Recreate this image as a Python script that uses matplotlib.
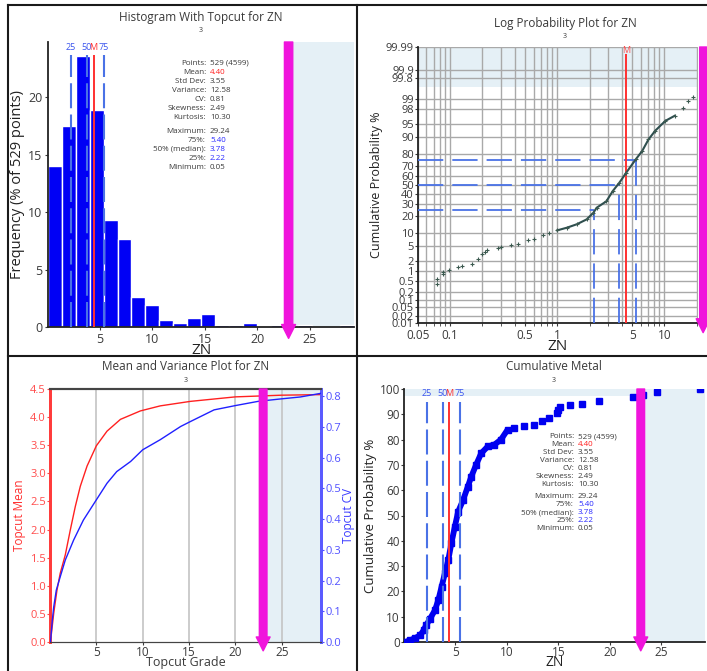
import numpy as np
from statistics import NormalDist

import matplotlib
matplotlib.use('Agg')
import matplotlib.pyplot as plt
from matplotlib.lines import Line2D
from matplotlib.ticker import FixedLocator, NullLocator

plt.rcParams['font.family'] = ['Open Sans', 'DejaVu Sans']

"""
Data read off the reference
"""

# summary stats for ZN
ZN_MIN, ZN_MAX = 0.05, 29.24
ZN_MEAN = 4.40
Q25, Q50, Q75 = 2.22, 3.78, 5.40
TOPCUT = 23.0

stat_labels = ['Points:', 'Mean:', 'Std Dev:', 'Variance:', 'CV:', 'Skewness:',
               'Kurtosis:', 'Maximum:', '75%:', '50% (median):', '25%:', 'Minimum:']
stat_values = ['529 (4599)', '4.40', '3.55', '12.58', '0.81', '2.49',
               '10.30', '29.24', '5.40', '3.78', '2.22', '0.05']

# histogram, 22 bins between min and max, % of 529 points
hist_pct = [14.0, 17.5, 23.6, 18.9, 9.3, 7.7, 2.6, 1.9, 0.57, 0.38, 0.76,
            1.13, 0.19, 0.19, 0.38, 0.0, 0.19, 0.0, 0.19, 0.0, 0.0, 0.19]

# log probability points (value, cumulative %)
lp_val = [0.075, 0.075, 0.085, 0.086, 0.097, 0.117, 0.13, 0.16, 0.18, 0.20,
          0.21, 0.22, 0.28, 0.30, 0.37, 0.43, 0.53, 0.61, 0.73, 0.84, 1.0,
          1.23, 1.52, 1.88, 2.17, 2.33, 2.87, 3.3, 3.8, 4.4, 5.4, 6.2, 7.1,
          8.2, 10.2, 12.5, 15.0, 16.6, 18.5]
lp_pct = [0.37, 0.55, 0.8, 0.95, 1.1, 1.35, 1.5, 1.7, 2.3, 3.1, 3.5, 4.0,
          4.4, 4.8, 5.3, 5.7, 6.8, 7.4, 8.7, 9.6, 11.1, 12.5, 14.5, 17.7,
          22.7, 27, 33, 43.6, 52.5, 63, 75.5, 82, 89, 92.8, 95.8, 96.9,
          98.1, 98.8, 99.1]
prob_ticks = [0.01, 0.02, 0.05, 0.1, 0.2, 0.5, 1, 2, 5, 10, 20, 30, 40, 50,
              60, 70, 80, 90, 95, 98, 99, 99.8, 99.9, 99.99]
prob_labels = ['0.01', '0.02', '0.05', '0.1', '0.2', '0.5', '1', '2', '5',
               '10', '20', '30', '40', '50', '60', '70', '80', '90', '95',
               '98', '99', '99.8', '99.9', '99.99']

# topcut mean / CV curves
mean_grade = [0.05, 0.4, 0.75, 1.1, 1.65, 2.2, 2.73, 3.27, 4.0, 5.0, 6.15,
              7.6, 9.75, 11.9, 15.15, 20, 25, 29.24]
mean_val = [0.0, 0.51, 0.92, 1.22, 1.55, 2.0, 2.41, 2.77, 3.13, 3.49, 3.75,
            3.96, 4.11, 4.2, 4.28, 4.36, 4.39, 4.40]
cv_grade = [0.05, 0.25, 0.4, 0.68, 1.1, 1.65, 2.55, 3.6, 5.0, 6.15, 7.2, 8.7,
            10.0, 11.9, 14.1, 15.15, 17.7, 20, 22.5, 25, 27, 29.24]
cv_val = [0.0, 0.071, 0.114, 0.169, 0.212, 0.267, 0.332, 0.397, 0.463, 0.517,
          0.555, 0.588, 0.626, 0.659, 0.702, 0.718, 0.756, 0.770, 0.784,
          0.792, 0.798, 0.81]

# cumulative metal (value, cumulative %)
cm_val = [0.13, 0.6, 1.1, 1.57, 1.9, 2.15, 2.53, 3.0, 3.33, 3.65, 3.97, 4.3,
          4.6, 4.94, 5.26, 5.74, 6.2, 6.54, 7.0, 7.5, 8.14, 8.78, 9.42, 10.06,
          10.7, 11.67, 12.6, 13.4, 14.07, 14.87, 15.0, 15.2, 16.15, 17.3,
          18.9, 22.2, 23.2, 24.6, 28.8]
cm_pct = [0, 0.7, 1.6, 2.6, 4.6, 6.6, 9.2, 12.5, 16.5, 21.8, 27.1, 32.4, 39,
          45.6, 51.5, 56.1, 61.4, 65.4, 70, 74.6, 77.3, 78, 80, 83.9, 84.5,
          85.2, 85.9, 87.2, 88.5, 90.5, 91.8, 92.9, 93.5, 94.2, 95.1, 96.8,
          97.8, 98.8, 100]
CM_TOPCUT_PCT = 97.4
LP_TOPCUT_PCT = 99.6

W, H = 707, 671
MAG = '#f014dc'
SHADE = '#e5f0f6'
QBLUE = '#4a72e6'
TXT = '#3a3a3a'


def px_axes(fig, l, t, r, b):
    return fig.add_axes([l / W, 1 - b / H, (r - l) / W, (b - t) / H])


def ftext(fig, x, y, s, **kw):
    return fig.text(x / W, 1 - y / H, s, **kw)


def titles(fig, x, y, title):
    ftext(fig, x, y, title, ha='center', va='center', fontsize=8.5, color=TXT)
    ftext(fig, x, y + 14, '3', ha='center', va='center', fontsize=5, color=TXT)


def draw_stats(fig, xsep, y0, step, gap):
    y = y0
    for i, (lab, val) in enumerate(zip(stat_labels, stat_values)):
        if i == 7:
            y += gap - step
        col = TXT
        if i == 1:
            col = '#ff2020'
        elif i in (8, 9, 10):
            col = '#2a2aff'
        ftext(fig, xsep - 2, y, lab, ha='right', va='center', fontsize=5.8, color=TXT)
        ftext(fig, xsep + 2, y, val, ha='left', va='center', fontsize=5.8, color=col)
        y += step


def topcut_arrow(ax, x, tip, width=6, head=10):
    ax.annotate('', xy=(x, tip), xycoords=('data', 'axes fraction'),
                xytext=(x, 1.0), textcoords=('data', 'axes fraction'),
                arrowprops=dict(color=MAG, width=width, headwidth=head,
                                headlength=10, shrink=0),
                annotation_clip=False, zorder=6)


def quartile_marks(ax, top, label_y, fs=6.5):
    tr = ax.get_xaxis_transform()
    ax.vlines([Q25, Q50, Q75], 0, top, transform=tr, colors=QBLUE, lw=1.5,
              linestyles=[(0, (12, 3))], zorder=4)
    ax.vlines([ZN_MEAN], 0, top, transform=tr, colors='#ff3030', lw=1.4, zorder=4)
    for q, lab in zip([Q25, Q50, Q75], ['25', '50', '75']):
        ax.text(q, label_y, lab, transform=tr, ha='center', va='center',
                fontsize=fs, color='#3b55ee', zorder=5)
    ax.text(ZN_MEAN, label_y, 'M', transform=tr, ha='center', va='center',
            fontsize=fs, color='#ff3030', zorder=5)


def style_ax(ax, size=9):
    for s in ['top', 'right']:
        ax.spines[s].set_visible(False)
    for s in ['left', 'bottom']:
        ax.spines[s].set_color('#222222')
        ax.spines[s].set_linewidth(1.3)
    ax.tick_params(labelsize=size, colors=TXT, length=2, pad=2)


fig = plt.figure(figsize=(W / 100, H / 100), dpi=100)

"""
Histogram
"""
ax = px_axes(fig, 48, 42, 354, 327)
edges = np.linspace(ZN_MIN, ZN_MAX, len(hist_pct) + 1)
ax.axvspan(TOPCUT, ZN_MAX, color=SHADE, zorder=0, lw=0)
ax.bar(edges[:-1], hist_pct, width=np.diff(edges), align='edge',
       color='#0000f5', edgecolor='white', linewidth=1, zorder=2)
ax.set_xlim(ZN_MIN, ZN_MAX)
ax.set_ylim(0, 24.8)
ax.set_xticks([5, 10, 15, 20, 25])
ax.set_yticks([0, 5, 10, 15, 20])
style_ax(ax)
quartile_marks(ax, 0.955, 0.982)
topcut_arrow(ax, TOPCUT, -0.04)
ax.set_ylabel('Frequency (% of 529 points)', fontsize=10.5, color='#222222', labelpad=2)
ax.set_xlabel('ZN', fontsize=11, color='#222222', labelpad=-2)
titles(fig, 201, 17, 'Histogram With Topcut for ZN')
draw_stats(fig, 208, 63.5, 9, 14)

"""
Log probability
"""
nd = NormalDist()
to_z = np.vectorize(lambda p: nd.inv_cdf(min(max(p, 1e-7), 100 - 1e-7) / 100.0), otypes=[float])
from_z = np.vectorize(lambda z: nd.cdf(z) * 100.0, otypes=[float])

ax = px_axes(fig, 418, 47, 698, 323)
ax.set_xscale('log')
ax.set_yscale('function', functions=(to_z, from_z))
ax.set_xlim(0.05, 20.6)
ax.set_ylim(0.01, 99.99)
ax.axhspan(LP_TOPCUT_PCT, 99.99, color=SHADE, zorder=0, lw=0)
ax.xaxis.set_major_locator(FixedLocator([0.05, 0.1, 0.5, 1, 5, 10]))
ax.set_xticklabels(['0.05', '0.1', '0.5', '1', '5', '10'])
minor_x = [0.06, 0.07, 0.08, 0.09, 0.2, 0.3, 0.4, 0.6, 0.7, 0.8, 0.9,
           2, 3, 4, 6, 7, 8, 9, 20]
ax.xaxis.set_minor_locator(FixedLocator(minor_x))
ax.yaxis.set_major_locator(FixedLocator(prob_ticks))
ax.yaxis.set_minor_locator(NullLocator())
ax.set_yticklabels(prob_labels)
ax.grid(True, which='both', color='#a9a9a9', lw=1.0)
ax.set_axisbelow(True)
style_ax(ax, size=8.5)
ax.tick_params(axis='y', labelsize=8, pad=1)
ax.tick_params(which='minor', length=2, colors=TXT)

hb = dict(colors=QBLUE, lw=1.3, linestyles=[(0, (14, 5))], zorder=4)
for q, p in [(Q25, 25), (Q50, 50), (Q75, 75)]:
    ax.hlines(p, 0.05, q, **hb)
    ax.vlines(q, 0.01, p, **hb)
ax.vlines(ZN_MEAN, 0.01, 99.98, colors='#ff3030', lw=1.4, zorder=4)
ax.text(ZN_MEAN, 0.989, 'M', transform=ax.get_xaxis_transform(),
        ha='center', va='center', fontsize=6.5, color='#ff5050')

lv = np.array(lp_val)
lpp = np.array(lp_pct)
dense = (lv >= 1.0) & (lv <= 12.6)
ax.plot(lv[dense], lpp[dense], color='#2f4f4f', lw=1.5, zorder=5)
ax.plot(lv, lpp, ls='none', marker='+', ms=2.5, mew=0.8, color='#3c5a50', zorder=5)
topcut_arrow(ax, TOPCUT, -0.035, width=5)
ax.set_ylabel('Cumulative Probability %', fontsize=9, color='#222222', labelpad=2)
ax.set_xlabel('ZN', fontsize=11, color='#222222', labelpad=-2)
titles(fig, 565, 23, 'Log Probability Plot for ZN')

"""
Mean and variance
"""
ax = px_axes(fig, 50, 389, 321, 642)
ax2 = ax.twinx()
ax.axvspan(TOPCUT, ZN_MAX, color=SHADE, zorder=0, lw=0)
ax.plot(mean_grade, mean_val, color='#ff2020', lw=1.0, zorder=3)
ax2.plot(cv_grade, cv_val, color='#2020ff', lw=1.0, zorder=3)
ax.set_xlim(0, ZN_MAX)
ax.set_ylim(0, 4.5)
ax2.set_ylim(0, 0.824)
ax.set_xticks([5, 10, 15, 20, 25])
ax.set_yticks(np.arange(0, 4.6, 0.5))
ax.set_yticklabels([f'{v:.1f}' for v in np.arange(0, 4.6, 0.5)])
ax2.set_yticks(np.arange(0, 0.81, 0.1))
ax2.set_yticklabels([f'{v:.1f}' for v in np.arange(0, 0.81, 0.1)])
ax.grid(True, axis='x', color='#c4c4c4', lw=1.2)
ax.set_axisbelow(True)
for a in (ax, ax2):
    a.spines['top'].set_color('#444444')
    a.spines['top'].set_linewidth(1.5)
    a.spines['bottom'].set_color('#444444')
    a.spines['left'].set_color('#ff3b3b')
    a.spines['left'].set_linewidth(2)
    a.spines['right'].set_color('#5a5aff')
    a.spines['right'].set_linewidth(2)
ax.tick_params(axis='y', colors='#ff4a4a', labelsize=8, length=2, pad=1)
ax.tick_params(axis='x', colors=TXT, labelsize=8.5, length=2, pad=1)
ax2.tick_params(axis='y', colors='#5050ff', labelsize=8, length=2, pad=1)
ax.set_ylabel('Topcut Mean', color='#ff3030', fontsize=8.5, labelpad=3)
ax2.set_ylabel('Topcut CV', color='#3a3aff', fontsize=8.5, labelpad=1)
ax.set_xlabel('Topcut Grade', color=TXT, fontsize=9, labelpad=-2)
topcut_arrow(ax2, TOPCUT, -0.035, width=5.5)
titles(fig, 186, 366, 'Mean and Variance Plot for ZN')

"""
Cumulative metal
"""
ax = px_axes(fig, 404, 389, 705, 642)
ax.axvspan(TOPCUT, ZN_MAX, color=SHADE, zorder=0, lw=0)
ax.axhspan(CM_TOPCUT_PCT, 100, color=SHADE, zorder=0, lw=0)
cv_ = np.array(cm_val)
cp_ = np.array(cm_pct)
dense = cv_ <= 10.1
ax.plot(cv_[dense], cp_[dense], color='#0000f0', lw=4.2, zorder=3,
        solid_capstyle='butt', solid_joinstyle='round')
ax.plot(cv_, cp_, ls='none', marker='s', ms=3.8, color='#0000f0', zorder=3)
ax.set_xlim(0, ZN_MAX)
ax.set_ylim(0, 100)
ax.set_xticks([5, 10, 15, 20, 25])
ax.set_yticks(np.arange(0, 101, 10))
style_ax(ax, size=8.5)
ax.tick_params(pad=1)
quartile_marks(ax, 0.95, 0.984)
topcut_arrow(ax, TOPCUT, -0.035, width=5.5)
ax.set_ylabel('Cumulative Probability %', fontsize=9.5, color='#222222', labelpad=2)
ax.set_xlabel('ZN', fontsize=10, color='#222222', labelpad=-3)
titles(fig, 554, 366, 'Cumulative Metal')
draw_stats(fig, 576, 436.7, 8, 12)

# panel frame lines
frame = dict(color='#1a1a1a', lw=1.5, transform=fig.transFigure)
fig.add_artist(Line2D([8 / W, 1], [1 - 5 / H, 1 - 5 / H], **frame))
fig.add_artist(Line2D([8 / W, 8 / W], [0, 1 - 5 / H], **frame))
fig.add_artist(Line2D([357 / W, 357 / W], [0, 1 - 5 / H], **frame))
fig.add_artist(Line2D([8 / W, 1], [1 - 356 / H, 1 - 356 / H], **frame))

fig.savefig('out.png', dpi=100)
plt.close(fig)
